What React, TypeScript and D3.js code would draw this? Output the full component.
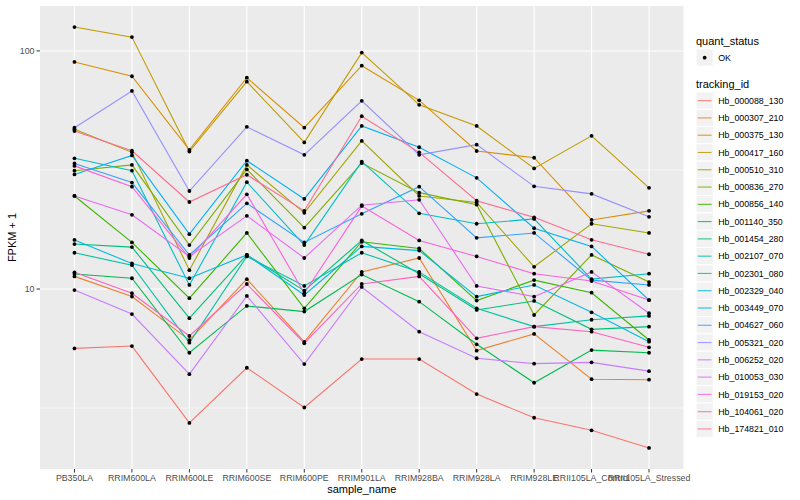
import React from "react";
import * as d3 from "d3";

const samples = ["PB350LA","RRIM600LA","RRIM600LE","RRIM600SE","RRIM600PE","RRIM901LA","RRIM928BA","RRIM928LA","RRIM928LE","RRII105LA_Control","RRII105LA_Stressed"];

const trackingIds = ["Hb_000088_130","Hb_000307_210","Hb_000375_130","Hb_000417_160","Hb_000510_310","Hb_000836_270","Hb_000856_140","Hb_001140_350","Hb_001454_280","Hb_002107_070","Hb_002301_080","Hb_002329_040","Hb_003449_070","Hb_004627_060","Hb_005321_020","Hb_006252_020","Hb_010053_030","Hb_019153_020","Hb_104061_020","Hb_174821_010"];

const hb_000088_130 = [5.63, 5.76, 2.74, 4.67, 3.18, 5.08, 5.08, 3.62, 2.88, 2.55, 2.15];
const hb_000307_210 = [11.3, 9.3, 6.1, 11.0, 6.0, 11.8, 13.5, 5.51, 6.48, 4.18, 4.16];
const hb_000375_130 = [89.9, 78.3, 38.4, 77.2, 47.6, 86.7, 62.0, 38.0, 35.6, 19.5, 21.3];
const hb_000417_160 = [126, 114.3, 37.8, 74.3, 41.3, 98.4, 59.4, 48.4, 32.1, 44.0, 26.6];
const hb_000510_310 = [46.9, 37.5, 12.0, 33.2, 20.9, 41.9, 24.6, 23.1, 12.4, 18.8, 17.2];
const hb_000836_270 = [31.4, 33.2, 15.3, 31.8, 18.1, 33.8, 25.4, 22.6, 7.78, 13.9, 10.7];
const hb_000856_140 = [24.6, 15.7, 9.15, 17.2, 8.3, 15.8, 14.8, 8.94, 10.9, 9.65, 6.11];
const hb_001140_350 = [11.56, 11.1, 5.4, 8.49, 8.04, 11.5, 8.85, 5.86, 4.04, 5.54, 5.4];
const hb_001454_280 = [15.45, 15.0, 7.54, 13.9, 9.84, 16.0, 11.6, 8.17, 8.91, 6.77, 6.95];
const hb_002107_070 = [14.2, 12.6, 5.95, 13.7, 10.3, 14.2, 11.8, 8.3, 6.95, 7.43, 7.71];
const hb_002301_080 = [35.4, 31.4, 10.4, 28.1, 15.3, 34.3, 20.8, 18.8, 19.7, 11.0, 11.6];
const hb_002329_040 = [16.07, 12.8, 11.1, 13.9, 9.44, 15.1, 14.5, 9.29, 10.4, 7.98, 6.01];
const hb_003449_070 = [30.3, 36.4, 17.0, 34.6, 23.9, 48.4, 39.4, 29.3, 18.0, 15.1, 8.99];
const hb_004627_060 = [33.7, 28.0, 13.9, 22.9, 15.7, 20.7, 26.9, 16.4, 17.2, 10.9, 10.4];
const hb_005321_020 = [47.6, 67.9, 25.8, 48.0, 36.6, 61.7, 36.6, 40.4, 27.0, 25.1, 20.1];
const hb_006252_020 = [9.9, 7.85, 4.39, 9.35, 4.84, 10.2, 6.62, 5.12, 4.86, 4.92, 4.52];
const hb_010053_030 = [24.6, 20.5, 13.7, 20.3, 13.5, 22.5, 23.7, 10.3, 9.29, 11.8, 7.91];
const hb_019153_020 = [32.9, 26.9, 13.5, 25.0, 9.6, 22.3, 16.0, 13.7, 11.6, 10.8, 8.99];
const hb_104061_020 = [11.75, 9.6, 6.35, 10.5, 5.92, 10.5, 11.3, 6.21, 6.95, 6.62, 5.69];
const hb_174821_010 = [46.1, 38.1, 23.2, 30.2, 21.3, 53.2, 37.5, 23.5, 20.0, 16.1, 14.0];

const seriesValues = [hb_000088_130, hb_000307_210, hb_000375_130, hb_000417_160, hb_000510_310, hb_000836_270, hb_000856_140, hb_001140_350, hb_001454_280, hb_002107_070, hb_002301_080, hb_002329_040, hb_003449_070, hb_004627_060, hb_005321_020, hb_006252_020, hb_010053_030, hb_019153_020, hb_104061_020, hb_174821_010];

const palette = ["#F8766D","#EA8331","#D89000","#C09B00","#A3A500","#7CAE00","#39B600","#00BB4E","#00BF7D","#00C1A3","#00BFC4","#00BAE0","#00B0F6","#35A2FF","#9590FF","#C77CFF","#E76BF3","#FA62DB","#FF62BC","#FF6C91"];

const yMajor = [10, 100];
const yMinor = [Math.sqrt(10), Math.sqrt(1000)];

const W = 800, H = 500;
const panel = { left: 40, right: 683.5, top: 6, bottom: 469 };
const FONT = "'Liberation Sans', Arial, Helvetica, sans-serif";

export default function App() {
  const all = seriesValues.flat();
  const lmin = Math.log10(d3.min(all) as number);
  const lmax = Math.log10(d3.max(all) as number);
  const pad = (lmax - lmin) * 0.05;
  const y = d3.scaleLog().domain([10 ** (lmin - pad), 10 ** (lmax + pad)]).range([panel.bottom, panel.top]);
  const x = d3.scalePoint<string>().domain(samples).range([panel.left, panel.right]).padding(0.6);
  const line = d3.line<number>().x((_, i) => x(samples[i]) as number).y((v) => y(v));

  const keyH = 17.28;
  const legX = 696;
  const items0 = 92;

  return (
    <svg width={W} height={H} style={{ position: "absolute", left: 0, top: 0, background: "#fff" }} fontFamily={FONT}>
      <rect x={0} y={0} width={W} height={H} fill="#fff" />
      <rect x={panel.left} y={panel.top} width={panel.right - panel.left} height={panel.bottom - panel.top} fill="#EBEBEB" />
      {yMinor.filter(v => y(v) >= panel.top && y(v) <= panel.bottom).map((v, i) => (
        <line key={"mn" + i} x1={panel.left} x2={panel.right} y1={y(v)} y2={y(v)} stroke="#fff" strokeWidth={0.55} />
      ))}
      {yMajor.map((v, i) => (
        <line key={"mj" + i} x1={panel.left} x2={panel.right} y1={y(v)} y2={y(v)} stroke="#fff" strokeWidth={1.1} />
      ))}
      {samples.map((s) => (
        <line key={"gx" + s} x1={x(s)} x2={x(s)} y1={panel.top} y2={panel.bottom} stroke="#fff" strokeWidth={1.1} />
      ))}
      {seriesValues.map((vals, i) => (
        <path key={"l" + i} d={line(vals) as string} fill="none" stroke={palette[i]} strokeWidth={1.1} />
      ))}
      {seriesValues.map((vals, i) => vals.map((v, j) => (
        <circle key={"p" + i + "_" + j} cx={x(samples[j])} cy={y(v)} r={1.9} fill="#000" />
      )))}
      {/* y axis */}
      {yMajor.map((v, i) => (
        <g key={"yt" + i}>
          <line x1={panel.left - 3.5} x2={panel.left} y1={y(v)} y2={y(v)} stroke="#333" strokeWidth={1} />
          <text x={panel.left - 5.5} y={y(v) + 3.2} textAnchor="end" fontSize={8.8} fill="#4D4D4D">{v}</text>
        </g>
      ))}
      {samples.map((s) => (
        <g key={"xt" + s}>
          <line x1={x(s)} x2={x(s)} y1={panel.bottom} y2={panel.bottom + 3.5} stroke="#333" strokeWidth={1} />
          <text x={x(s)} y={panel.bottom + 12} textAnchor="middle" fontSize={8.8} fill="#4D4D4D">{s}</text>
        </g>
      ))}
      <text x={(panel.left + panel.right) / 2} y={493} textAnchor="middle" fontSize={11} fill="#000">sample_name</text>
      <text transform={`translate(16,${(panel.top + panel.bottom) / 2}) rotate(-90)`} textAnchor="middle" fontSize={11} fill="#000">FPKM + 1</text>
      {/* legend */}
      <text x={legX} y={45} fontSize={11} fill="#000">quant_status</text>
      <rect x={legX} y={49} width={keyH} height={keyH} fill="#F2F2F2" stroke="#fff" strokeWidth={1} />
      <circle cx={legX + keyH / 2} cy={49 + keyH / 2} r={1.9} fill="#000" />
      <text x={legX + keyH + 5} y={49 + keyH / 2 + 3.1} fontSize={8.8} fill="#000">OK</text>
      <text x={legX} y={88} fontSize={11} fill="#000">tracking_id</text>
      {trackingIds.map((id, i) => {
        const ty = items0 + i * keyH;
        return (
          <g key={"lg" + id}>
            <rect x={legX} y={ty} width={keyH} height={keyH} fill="#F2F2F2" stroke="#fff" strokeWidth={1} />
            <line x1={legX + 1.7} x2={legX + keyH - 1.7} y1={ty + keyH / 2} y2={ty + keyH / 2} stroke={palette[i]} strokeWidth={1.1} opacity={0.85} />
            <text x={legX + keyH + 5} y={ty + keyH / 2 + 3.1} fontSize={8.8} fill="#000">{id}</text>
          </g>
        );
      })}
    </svg>
  );
}
